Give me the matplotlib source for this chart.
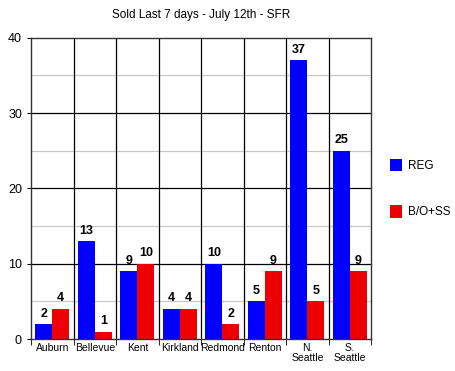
import numpy as np
import matplotlib.pyplot as plt

plt.rcParams['font.family'] = ['Liberation Sans', 'DejaVu Sans']

# data
cities = ['Auburn', 'Bellevue', 'Kent', 'Kirkland', 'Redmond', 'Renton', 'N.\nSeattle', 'S.\nSeattle']
reg = [2, 13, 9, 4, 10, 5, 37, 25]
bo_ss = [4, 1, 10, 4, 2, 9, 5, 9]

x = np.arange(len(cities))
w = 0.4

fig = plt.figure(figsize=(4.56, 3.71), dpi=100)
ax = fig.add_axes([0.068, 0.086, 0.746, 0.812])

# grid: light lines every 5, dark every 10
for yv in range(5, 40, 10):
    ax.axhline(yv, color='#c8c8c8', lw=0.9, zorder=0)
for yv in range(10, 40, 10):
    ax.axhline(yv, color='black', lw=0.9, zorder=0)
for xv in x[:-1] + 0.5:
    ax.axvline(xv, color='black', lw=0.9, zorder=0)

b1 = ax.bar(x - w/2, reg, w, color='#0000ff', label='REG', zorder=2)
b2 = ax.bar(x + w/2, bo_ss, w, color='#ee0000', label='B/O+SS', zorder=2)

for bars in (b1, b2):
    for r in bars:
        h = r.get_height()
        ax.text(r.get_x() + r.get_width()/2, h + 0.6, str(int(h)),
                ha='center', va='bottom', fontsize=9, fontweight='bold')

ax.set_xlim(-0.5, 7.5)
ax.set_ylim(0, 40)
ax.set_yticks([0, 10, 20, 30, 40])
ax.set_xticks(x)
ax.set_xticklabels(cities, fontsize=7.5, linespacing=1.0)
ax.set_xticks(np.arange(-0.5, 8, 1), minor=True)
ax.tick_params(axis='x', which='major', length=0, pad=3)
ax.tick_params(axis='x', which='minor', length=4, direction='out')
ax.tick_params(axis='y', labelsize=9, length=3)
for s in ax.spines.values():
    s.set_linewidth(1.0)
    s.set_color('#333333')

ax.set_title('Sold Last 7 days - July 12th - SFR', fontsize=8.5, pad=14)

ax.legend(loc='center left', bbox_to_anchor=(1.025, 0.5), frameon=False,
          fontsize=8.5, labelspacing=2.8, handlelength=1.0, handleheight=1.3,
          handletextpad=0.5)

fig.savefig('out.png', dpi=100)
